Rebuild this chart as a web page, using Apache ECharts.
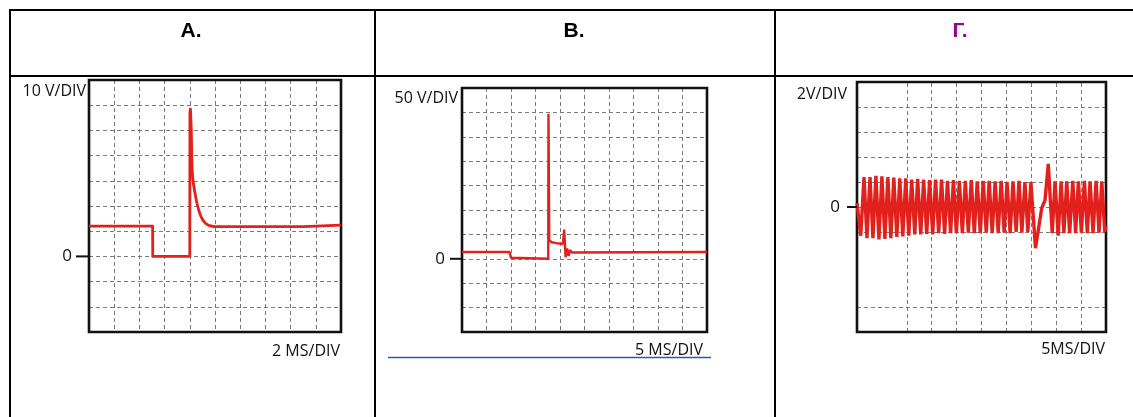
<!DOCTYPE html>
<html>
<head>
<meta charset="utf-8">
<script src="https://cdn.jsdelivr.net/npm/echarts@6/dist/echarts.min.js"></script>
<style>
html,body{margin:0;padding:0;background:#fff;}
#c{width:1133px;height:417px;}
</style>
</head>
<body>
<div id="c"></div>
<script>
// ---- headers ----
const headers = ['A.', 'B.', 'Г.'];
const scaleLabels = ['10 V/DIV', '50 V/DIV', '2V/DIV'];
const timeLabels = ['2 MS/DIV', '5 MS/DIV', '5MS/DIV'];
const zeroTick = [0];

// ---- panel A (2 ms/div, 10 V/div) ----
const aTime = [0, 5.05, 5.06, 8.0, 8.01, 8.05, 8.12, 8.16, 8.2, 8.28, 8.4, 8.55, 8.7, 8.85, 9.05, 9.25, 9.5, 9.9, 12, 17, 20];
const aVolt = [12, 12, 0, 0, 57, 58.5, 50, 38, 33, 29, 25.5, 21.5, 18.5, 16.2, 14.3, 13.1, 12.3, 11.8, 11.8, 11.8, 12.4];
const aX = [0, 20, 2];
const aY = [-30, 70, 10];

// ---- panel B (5 ms/div, 50 V/div) ----
const bTime = [0, 9.7, 9.85, 10.0, 10.2, 17.6, 17.65, 17.8, 18.3, 19.3, 20.6, 20.85, 21.15, 21.45, 21.75, 22.05, 22.4, 50];
const bVolt = [14, 14, 8, 2, 0, 0, 297, 38, 34, 32, 30.5, 60, 3, 21, 6, 18, 13, 14];
const bX = [0, 50, 5];
const bY = [-150, 350, 50];

// ---- panel Г (5 ms/div, 2 V/div) ----
const gTime = [0.0, 0.75, 1.41, 2.0, 2.61, 3.2, 3.80, 4.4, 5.00, 5.6, 6.20, 6.8, 7.39, 8.0, 8.59, 9.2, 9.79, 10.4,
  10.98, 11.6, 12.18, 12.8, 13.38, 14.0, 14.58, 15.2, 15.77, 16.4, 16.97, 17.6, 18.17, 18.8, 19.36, 19.95,
  20.56, 21.15, 21.76, 22.35, 22.95, 23.55, 24.15, 24.75, 25.35, 25.95, 26.54, 27.15, 27.74, 28.35, 28.94,
  29.55, 30.13, 30.75, 31.33, 31.95, 32.53, 33.1, 33.72, 34.3, 34.92, 35.84, 37.09, 37.41, 37.75, 38.41,
  39.2, 39.77, 40.4, 40.98, 41.55, 42.12, 42.7, 43.33, 43.9, 44.45, 45.05, 45.66, 46.25, 46.80, 47.4, 48.01,
  48.6, 49.15, 49.75, 50];
const gVolt = [0.3, -2.3, 2.4, -2.5, 2.4, -2.5, 2.5, -2.6, 2.45, -2.55, 2.4, -2.5, 2.35, -2.4, 2.3, -2.35, 2.3, -2.3,
  2.2, -2.2, 2.25, -2.2, 2.2, -2.15, 2.15, -2.2, 2.2, -2.1, 2.2, -2.15, 2.1, -2.1, 2.15, -2.1,
  2.1, -2.1, 2.1, -2.05, 2.15, -2.1, 2.05, -2.1, 2.1, -2.05, 2.1, -2.1, 2.05, -2.1, 2.1,
  -2.05, 2.0, -2.1, 2.05, -2.0, 2.1, -2.05, 2.0, -2.0, 2.0, -3.3, -0.1, 0.05, 0.55, 3.45,
  -2.1, 2.05, -2.3, 2.05, -2.1, 2.05, -2.1, 2.1, -2.1, 2.05, -2.05, 2.1, -2.1, 2.05, -2.1, 2.1,
  -2.05, 2.05, -2.0, -1.5];
const gX = [0, 50, 5];
const gY = [-10, 10, 2];
const gGridX = [10, 15, 20, 25, 30, 35, 40, 45];
const gGridY = [8, 6, 4, 2, 0, -2, -8];

const RED = '#e2201c';
const GRIDLINE = { type: [4, 3], color: '#7a7a7a', width: 1 };
const LABEL_FONT = '"Open Sans", sans-serif';
const HEAD_FONT = '"Liberation Sans", Arial, sans-serif';

const grids = [
  { left: 89, top: 80, width: 252, height: 252 },
  { left: 462, top: 88, width: 245, height: 244 },
  { left: 857, top: 82, width: 249, height: 250 }
].map(g => Object.assign(g, { show: true, borderColor: '#111', borderWidth: 2.6, backgroundColor: 'transparent', z: 3 }));

const tickLens = [13, 12, 10];

function xAxis(i, r, showSplit) {
  return {
    type: 'value', gridIndex: i, min: r[0], max: r[1], interval: r[2],
    axisLine: { show: false }, axisTick: { show: false }, axisLabel: { show: false },
    splitLine: { show: showSplit, lineStyle: GRIDLINE }
  };
}
function yAxis(i, r, showSplit) {
  return {
    type: 'value', gridIndex: i, min: r[0], max: r[1], interval: r[2],
    axisLine: { show: false },
    axisTick: { show: false },
    axisLabel: { show: true, customValues: zeroTick, margin: 17, color: '#111', fontSize: 17, fontFamily: LABEL_FONT },
    splitLine: { show: showSplit, lineStyle: GRIDLINE }
  };
}
function pairs(t, v) { return t.map((x, k) => [x, v[k]]); }

const chart = echarts.init(document.getElementById('c'), null, { renderer: 'canvas' });

const textEl = (x, y, txt, align, size, color, font, weight) => ({
  type: 'text', x: x, y: y, z: 10,
  style: { text: txt, align: align, verticalAlign: 'middle', fontSize: size, fill: color, fontFamily: font, fontWeight: weight || 'normal' }
});
const hline = (x1, x2, y, w, color) => ({ type: 'line', z: 10, shape: { x1: x1, y1: y, x2: x2, y2: y }, style: { stroke: color || '#000', lineWidth: w } });
const vline = (x, y1, y2, w) => ({ type: 'line', z: 10, shape: { x1: x, y1: y1, x2: x, y2: y2 }, style: { stroke: '#000', lineWidth: w } });

const graphic = [
  // table
  hline(9, 1133, 10, 2),
  hline(9, 1133, 76, 2),
  vline(10, 9, 417, 2),
  vline(375, 9, 417, 2),
  vline(775, 9, 417, 2),
  // headers
  textEl(191, 31, headers[0], 'center', 21, '#000', HEAD_FONT, 'bold'),
  textEl(574, 31, headers[1], 'center', 21, '#000', HEAD_FONT, 'bold'),
  textEl(960, 31, headers[2], 'center', 21, '#990099', HEAD_FONT, 'bold'),
  // scale labels
  textEl(86, 91, scaleLabels[0], 'right', 16, '#111', LABEL_FONT),
  textEl(458, 98, scaleLabels[1], 'right', 16, '#111', LABEL_FONT),
  textEl(847, 94, scaleLabels[2], 'right', 16, '#111', LABEL_FONT),
  textEl(340, 351, timeLabels[0], 'right', 16, '#111', LABEL_FONT),
  textEl(703, 350, timeLabels[1], 'right', 16, '#111', LABEL_FONT),
  textEl(1105, 349, timeLabels[2], 'right', 16, '#111', LABEL_FONT),
  // blue rule under panel B
  hline(388, 711, 357.5, 1.3, '#2b5aa6')
];

chart.setOption({
  animation: false,
  backgroundColor: '#fff',
  grid: grids,
  xAxis: [xAxis(0, aX, true), xAxis(1, bX, true), xAxis(2, gX, false)],
  yAxis: [yAxis(0, aY, true), yAxis(1, bY, true), yAxis(2, gY, false)],
  series: [
    { type: 'line', xAxisIndex: 0, yAxisIndex: 0, data: pairs(aTime, aVolt), showSymbol: false, lineStyle: { color: RED, width: 2.8, join: 'round' }, z: 5 },
    { type: 'line', xAxisIndex: 1, yAxisIndex: 1, data: pairs(bTime, bVolt), showSymbol: false, lineStyle: { color: RED, width: 2.4 }, z: 5 },
    {
      type: 'line', xAxisIndex: 2, yAxisIndex: 2, data: pairs(gTime, gVolt), showSymbol: false, lineStyle: { color: RED, width: 3.4 }, z: 5,
      markLine: {
        silent: true, symbol: 'none', label: { show: false }, z: 1,
        lineStyle: GRIDLINE,
        data: gGridX.map(v => ({ xAxis: v })).concat(gGridY.map(v => ({ yAxis: v })))
      }
    }
  ]
});

// zero-level tick marks, placed through each panel's own scale
[0, 1, 2].forEach(i => {
  const p = chart.convertToPixel({ gridIndex: i }, [0, zeroTick[0]]);
  graphic.push({ type: 'line', z: 10, shape: { x1: p[0] - tickLens[i], y1: p[1], x2: p[0], y2: p[1] }, style: { stroke: '#111', lineWidth: 2 } });
});
chart.setOption({ graphic: graphic });
</script>
</body>
</html>
